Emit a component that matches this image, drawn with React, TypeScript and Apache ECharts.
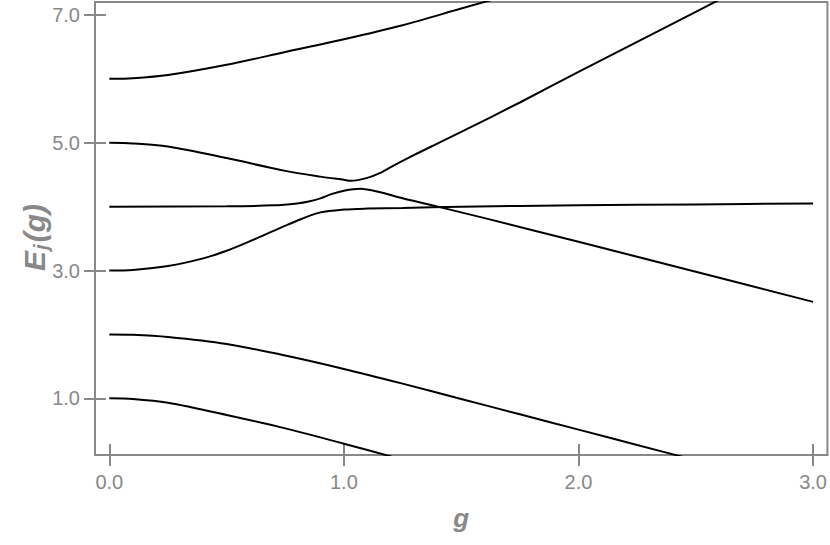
import React, { useEffect, useRef } from "react";
import * as echarts from "echarts";

// Energy levels E_j(g): [g, E]
const levelA: [number, number][] = [[0, 1.0], [0.1, 0.99], [0.25, 0.93], [0.5, 0.74], [0.75, 0.53], [1.0, 0.29], [1.25, 0.04]];
const levelB: [number, number][] = [[0, 2.0], [0.1, 1.995], [0.25, 1.96], [0.5, 1.85], [0.75, 1.67], [1.0, 1.46], [1.25, 1.23], [1.5, 0.99], [1.75, 0.75], [2.0, 0.51], [2.25, 0.27], [2.5, 0.03]];
const levelC: [number, number][] = [[0, 3.0], [0.1, 3.01], [0.25, 3.07], [0.4, 3.19], [0.5, 3.31], [0.6, 3.46], [0.7, 3.62], [0.8, 3.78], [0.9, 3.91], [1.0, 3.955], [1.1, 3.97], [1.25, 3.98], [1.5, 4.0], [2.0, 4.02], [2.5, 4.035], [3.0, 4.05]];
const levelD: [number, number][] = [[0, 4.0], [0.5, 4.005], [0.7, 4.02], [0.8, 4.05], [0.85, 4.08], [0.9, 4.13], [0.95, 4.2], [1.0, 4.25], [1.07, 4.28], [1.15, 4.23], [1.25, 4.13], [1.4, 4.0], [1.6, 3.82], [2.0, 3.45], [2.5, 2.98], [3.0, 2.51]];
const levelE: [number, number][] = [[0, 5.0], [0.1, 4.99], [0.25, 4.94], [0.5, 4.76], [0.75, 4.56], [0.9, 4.47], [1.0, 4.42], [1.03, 4.405], [1.1, 4.45], [1.15, 4.52], [1.2, 4.62], [1.3, 4.81], [1.4, 4.99], [1.5, 5.17], [1.75, 5.63], [2.0, 6.11], [2.25, 6.58], [2.5, 7.05], [2.75, 7.52]];
const levelF: [number, number][] = [[0, 6.0], [0.1, 6.01], [0.25, 6.06], [0.5, 6.22], [0.75, 6.42], [1.0, 6.62], [1.25, 6.84], [1.5, 7.1], [1.75, 7.36]];

const xTicks = [0, 1, 2, 3];
const yTicks = [1, 3, 5, 7];

const GRAY = "#888888";
const FONT = "Liberation Sans, Arial, sans-serif";

export default function App() {
  const ref = useRef<HTMLDivElement>(null);
  useEffect(() => {
    document.body.style.margin = "0";
    const chart = echarts.init(ref.current!, null, { renderer: "svg" });
    const levels = [levelA, levelB, levelC, levelD, levelE, levelF];
    const xMin = -0.061, xMax = 3.061, yMin = 0.113, yMax = 7.203;
    const fmt = (v: number) => v.toFixed(1);
    const tick = { color: GRAY, width: 2 };
    chart.setOption({
      animation: false,
      backgroundColor: "#fff",
      grid: { left: 95, right: 2, top: 2, bottom: 90, show: true, borderColor: GRAY, borderWidth: 2, backgroundColor: "transparent" },
      xAxis: [
        {
          type: "value", min: xMin, max: xMax, position: "bottom",
          axisLine: { show: true, onZero: false, lineStyle: { color: GRAY, width: 2 } },
          axisTick: { show: true, length: 11, lineStyle: tick, customValues: xTicks },
          axisLabel: { color: GRAY, fontSize: 20, fontFamily: FONT, margin: 17, customValues: xTicks, formatter: fmt },
          splitLine: { show: false },
          name: "g", nameLocation: "middle", nameGap: 50, nameMoveOverlap: false,
          nameTextStyle: { color: GRAY, fontSize: 26, fontWeight: "bold", fontStyle: "italic", fontFamily: FONT },
        },
        {
          type: "value", min: xMin, max: xMax, position: "bottom", show: true,
          axisLine: { show: false, onZero: false },
          axisTick: { show: true, inside: true, length: 11, lineStyle: tick, customValues: xTicks },
          axisLabel: { show: false },
          splitLine: { show: false },
        },
      ],
      yAxis: [
        {
          type: "value", min: yMin, max: yMax, position: "left",
          axisLine: { show: true, onZero: false, lineStyle: { color: GRAY, width: 2 } },
          axisTick: { show: true, length: 11, lineStyle: tick, customValues: yTicks },
          axisLabel: { color: GRAY, fontSize: 20, fontFamily: FONT, margin: 15, customValues: yTicks, formatter: fmt },
          splitLine: { show: false },
          name: "{a|E}{b|j}{a|(g)}", nameLocation: "middle", nameGap: 44, nameRotate: 90, nameMoveOverlap: false,
          nameTextStyle: {
            padding: [0, 18, 0, 0],
            rich: {
              a: { color: GRAY, fontSize: 30, fontWeight: "bold", fontStyle: "italic", fontFamily: FONT, lineHeight: 34 },
              b: { color: GRAY, fontSize: 20, fontWeight: "bold", fontStyle: "italic", fontFamily: FONT, lineHeight: 19, verticalAlign: "bottom", padding: [0, 2, 0, 1] },
            },
          },
        },
        {
          type: "value", min: yMin, max: yMax, position: "left", show: true,
          axisLine: { show: false, onZero: false },
          axisTick: { show: true, inside: true, length: 11, lineStyle: tick, customValues: yTicks },
          axisLabel: { show: false },
          splitLine: { show: false },
        },
      ],
      series: [
        ...levels.map((d) => ({
          type: "line",
          data: d,
          xAxisIndex: 0,
          yAxisIndex: 0,
          showSymbol: false,
          smooth: 0.3,
          clip: true,
          lineStyle: { color: "#000", width: 2 },
        })),
        { type: "line", data: [], xAxisIndex: 1, yAxisIndex: 1, showSymbol: false, silent: true },
      ],
    });
    return () => chart.dispose();
  }, []);
  return <div ref={ref} style={{ width: 830, height: 545 }} />;
}
